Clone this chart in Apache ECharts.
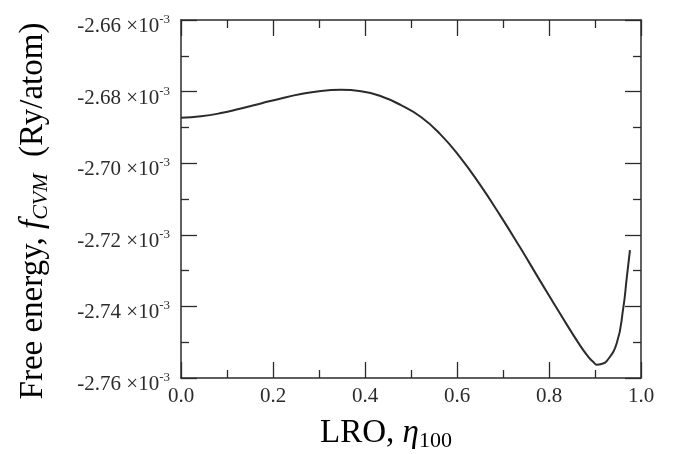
<!DOCTYPE html>
<html>
<head>
<meta charset="utf-8">
<script src="https://cdn.jsdelivr.net/npm/echarts@6/dist/echarts.min.js"></script>
<style>html,body{margin:0;padding:0;background:#fff;}#c{width:675px;height:454px;}</style>
</head>
<body>
<div id="c"></div>
<script>
// LRO order parameter eta_100
const eta = [0, 0.0435, 0.087, 0.1304, 0.1739, 0.2174, 0.2609, 0.3043, 0.3478, 0.3913, 0.4348, 0.4783, 0.5217, 0.563, 0.6065, 0.65, 0.6935, 0.737, 0.7804, 0.8239, 0.8674, 0.885, 0.897, 0.9037, 0.914, 0.9254, 0.9472, 0.9615, 0.9689, 0.976];
// Free energy f_CVM in units of 1e-3 Ry/atom
const fCVM = [-2.6873, -2.6869, -2.6860, -2.6847, -2.6833, -2.6819, -2.6807, -2.6798, -2.6795, -2.6799, -2.6813, -2.6838, -2.6871, -2.6918, -2.6983, -2.7060, -2.7145, -2.7235, -2.7328, -2.7420, -2.7509, -2.7540, -2.7556, -2.7563, -2.7561, -2.7553, -2.7503, -2.7404, -2.7322, -2.7243];
const xTicks = [0.0, 0.2, 0.4, 0.6, 0.8, 1.0];
const yTicks = [-2.76, -2.74, -2.72, -2.70, -2.68, -2.66];

const ink = '#2b2b2b';
const serif = 'Liberation Serif';
const chart = echarts.init(document.getElementById('c'), null, {renderer: 'canvas'});

const axisCommon = {
  axisLine: {show: true, onZero: false, lineStyle: {color: ink, width: 1.5}},
  axisTick: {show: true, inside: true, length: 16, lineStyle: {color: ink, width: 1.3}},
  minorTick: {show: true, splitNumber: 2, length: 8, lineStyle: {color: ink, width: 1.3}},
  splitLine: {show: false},
  minorSplitLine: {show: false}
};

chart.setOption({
  animation: false,
  backgroundColor: '#fff',
  grid: {left: 181, right: 34, top: 20, bottom: 76, containLabel: false},
  xAxis: [
    Object.assign({}, axisCommon, {
      type: 'value', position: 'bottom', min: xTicks[0], max: xTicks[xTicks.length - 1], interval: 0.2,
      axisLabel: {show: true, margin: 8, fontFamily: serif, fontSize: 21, color: ink,
        formatter: v => v.toFixed(1)}
    }),
    Object.assign({}, axisCommon, {
      type: 'value', position: 'top', min: xTicks[0], max: xTicks[xTicks.length - 1], interval: 0.2,
      axisLabel: {show: false}
    })
  ],
  yAxis: [
    Object.assign({}, axisCommon, {
      type: 'value', position: 'left', min: yTicks[0], max: yTicks[yTicks.length - 1], interval: 0.02,
      axisLabel: {show: true, margin: 11, color: ink, fontFamily: serif,
        padding: [10, 0, 0, 0],
        formatter: v => '{m|' + v.toFixed(2) + ' \u00d710}{s|-3}',
        rich: {
          m: {fontFamily: serif, fontSize: 21, color: ink, lineHeight: 24, verticalAlign: 'bottom'},
          s: {fontFamily: serif, fontSize: 13, color: ink, lineHeight: 14, verticalAlign: 'top'}
        }}
    }),
    Object.assign({}, axisCommon, {
      type: 'value', position: 'right', min: yTicks[0], max: yTicks[yTicks.length - 1], interval: 0.02,
      axisLabel: {show: false}
    })
  ],
  series: [{
    type: 'line',
    xAxisIndex: 0, yAxisIndex: 0,
    data: eta.map((x, i) => [x, fCVM[i]]),
    smooth: 0.5,
    showSymbol: false,
    lineStyle: {color: ink, width: 2}
  }],
  graphic: [
    {
      type: 'text', x: 33, y: 211, rotation: Math.PI / 2,
      style: {
        text: '{n|Free energy, }{i|f}{sub|CVM}{n|  (Ry/atom)}',
        align: 'center', verticalAlign: 'middle',
        rich: {
          n: {fontFamily: serif, fontSize: 33, color: ink, lineHeight: 38},
          i: {fontFamily: serif, fontSize: 33, fontStyle: 'italic', color: ink, lineHeight: 38},
          sub: {fontFamily: serif, fontSize: 22, fontStyle: 'italic', color: ink, lineHeight: 20, verticalAlign: 'bottom'}
        }
      }
    },
    {
      type: 'text', x: 386, y: 433,
      style: {
        text: '{n|LRO, }{i|\u03b7}{sub|100}',
        align: 'center', verticalAlign: 'middle',
        rich: {
          n: {fontFamily: serif, fontSize: 33, color: ink, lineHeight: 38},
          i: {fontFamily: serif, fontSize: 33, fontStyle: 'italic', color: ink, lineHeight: 38},
          sub: {fontFamily: serif, fontSize: 22, color: ink, lineHeight: 20, verticalAlign: 'bottom'}
        }
      }
    }
  ]
});
</script>
</body>
</html>
